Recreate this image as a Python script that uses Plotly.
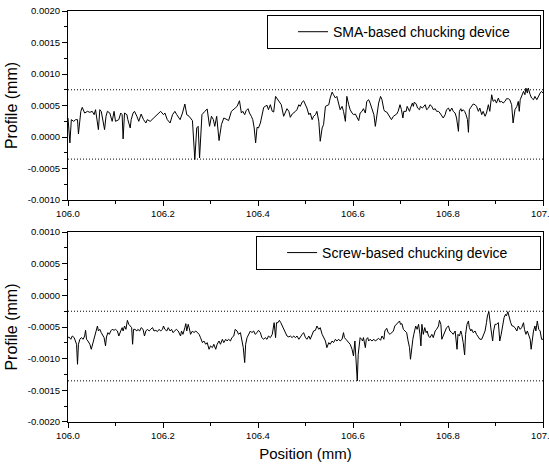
import plotly.graph_objects as go

# Surface profile traces over a 1 mm scan (mm)
sma_position = [
    106.000, 106.004, 106.007, 106.012, 106.016, 106.020, 106.022, 106.027, 106.030, 106.035,
    106.041, 106.046, 106.051, 106.055, 106.058, 106.064, 106.067, 106.070, 106.077, 106.080,
    106.083, 106.088, 106.093, 106.097, 106.100, 106.107, 106.111, 106.114, 106.116, 106.119,
    106.124, 106.126, 106.131, 106.133, 106.137, 106.140, 106.145, 106.149, 106.154, 106.159,
    106.164, 106.167, 106.173, 106.180, 106.188, 106.195, 106.201, 106.204, 106.209, 106.215,
    106.220, 106.225, 106.229, 106.236, 106.241, 106.246, 106.250, 106.255, 106.262, 106.267,
    106.271, 106.274, 106.277, 106.282, 106.288, 106.293, 106.298, 106.302, 106.306, 106.309,
    106.313, 106.318, 106.323, 106.328,
    106.335, 106.338, 106.344, 106.349, 106.352, 106.356, 106.361, 106.365, 106.368, 106.372,
    106.375, 106.379, 106.382, 106.386, 106.389, 106.392, 106.395, 106.398, 106.401, 106.405,
    106.408, 106.412, 106.415, 106.419, 106.422, 106.426, 106.430, 106.433, 106.437, 106.440,
    106.444, 106.449, 106.454, 106.458, 106.461, 106.465, 106.468, 106.472, 106.475, 106.479,
    106.482, 106.486, 106.489, 106.493, 106.496, 106.500, 106.503, 106.507, 106.510, 106.514,
    106.517, 106.521, 106.524, 106.528, 106.531, 106.535, 106.538, 106.542, 106.545, 106.549,
    106.552, 106.556, 106.559, 106.563, 106.566, 106.570, 106.573, 106.577, 106.580, 106.584,
    106.587, 106.591, 106.594, 106.598, 106.601, 106.605, 106.608, 106.612, 106.615, 106.619,
    106.622, 106.626, 106.629, 106.633, 106.636, 106.640, 106.644, 106.647, 106.651, 106.654,
    106.658, 106.661, 106.665,
    106.667, 106.671, 106.674, 106.678, 106.681, 106.685, 106.688, 106.692, 106.695, 106.699,
    106.702, 106.705, 106.707, 106.712, 106.714, 106.719, 106.721, 106.725, 106.727, 106.729,
    106.733, 106.736, 106.740, 106.742, 106.746, 106.749, 106.752, 106.755, 106.759, 106.762,
    106.766, 106.769, 106.773, 106.776, 106.780, 106.783, 106.787, 106.790, 106.794, 106.797,
    106.801, 106.804, 106.808, 106.811, 106.815, 106.818, 106.822, 106.824, 106.827, 106.829,
    106.832, 106.835, 106.838, 106.841, 106.843, 106.845, 106.848, 106.850, 106.853, 106.857,
    106.860, 106.864, 106.867, 106.871, 106.874, 106.878, 106.881, 106.885, 106.888, 106.892,
    106.895, 106.899, 106.902, 106.906, 106.909, 106.913, 106.916, 106.920, 106.923, 106.927,
    106.930, 106.934, 106.937, 106.941, 106.945, 106.948, 106.950, 106.952, 106.955, 106.959,
    106.962, 106.964, 106.967, 106.969, 106.973, 106.976, 106.980, 106.983, 106.987, 106.990,
    106.994, 106.997, 107.000,
]
sma_profile = [
    3.02e-4, -0.93e-4, 2.76e-4, 2.49e-4, 2.76e-4, 2.76e-4, 0.49e-4, 4.08e-4, 4.71e-4, 3.81e-4,
    4.08e-4, 3.92e-4, 4.08e-4, 3.55e-4, 4.34e-4, 1.18e-4, 4.34e-4, 4.08e-4, 1.18e-4, 3.29e-4,
    4.08e-4, 3.81e-4, 2.49e-4, 4.08e-4, 2.49e-4, 2.76e-4, 3.81e-4, 3.55e-4, -0.30e-4, 3.81e-4,
    3.55e-4, 2.76e-4, 1.44e-4, 2.76e-4, 3.81e-4, 4.08e-4, 3.29e-4, 2.49e-4, 3.65e-4, 2.76e-4,
    2.23e-4, 2.76e-4, 2.49e-4, 3.02e-4, 3.55e-4, 4.08e-4, 3.55e-4, 3.81e-4, 2.76e-4, 2.23e-4,
    3.55e-4, 4.08e-4, 3.55e-4, 2.76e-4, 3.81e-4, 5.24e-4, 3.55e-4, 3.29e-4, 2.60e-4, -3.57e-4,
    1.44e-4, 1.70e-4, -3.31e-4, 3.55e-4, 4.08e-4, 4.45e-4, 1.70e-4, 3.29e-4, 2.76e-4, 1.70e-4,
    3.29e-4, -0.56e-4, 1.97e-4, 3.02e-4,
    2.76e-4, 2.60e-4, 4.08e-4, 4.34e-4, 4.60e-4, 4.87e-4, 5.76e-4, 3.81e-4, 4.08e-4, 3.55e-4,
    4.18e-4, 4.50e-4, 3.81e-4, 3.29e-4, 2.76e-4, 1.44e-4, -0.93e-4, 1.55e-4, 1.44e-4, 2.23e-4,
    3.55e-4, 4.71e-4, 4.87e-4, 5.03e-4, 4.34e-4, 5.13e-4, 4.08e-4, 3.97e-4, 6.45e-4, 6.08e-4,
    5.66e-4, 5.13e-4, 3.29e-4, 4.08e-4, 4.50e-4, 4.08e-4, 3.13e-4, 3.65e-4, 3.81e-4, 4.08e-4,
    4.34e-4, 5.13e-4, 4.87e-4, 5.55e-4, 5.76e-4, 5.03e-4, 4.60e-4, 3.55e-4, 3.81e-4, 2.76e-4,
    3.29e-4, 3.55e-4, 4.08e-4, 2.49e-4, -0.67e-4, 1.44e-4, 1.97e-4, 4.87e-4, 5.03e-4, 5.13e-4,
    6.19e-4, 7.13e-4, 6.71e-4, 6.19e-4, 6.45e-4, 5.39e-4, 4.34e-4, 4.87e-4, 4.08e-4, 2.49e-4,
    6.45e-4, 5.13e-4, 4.34e-4, 3.81e-4, 3.55e-4, 3.65e-4, 3.29e-4, 2.60e-4, 3.81e-4, 4.08e-4,
    4.50e-4, 3.81e-4, 5.66e-4, 5.92e-4, 5.39e-4, 4.60e-4, 3.55e-4, 1.70e-4, 4.34e-4, 5.39e-4,
    6.45e-4, 5.92e-4, 4.34e-4,
    4.08e-4, 3.97e-4, 3.55e-4, 3.13e-4, 2.76e-4, 3.29e-4, 3.44e-4, 3.65e-4, 4.08e-4, 5.13e-4,
    4.34e-4, 3.02e-4, 4.08e-4, 4.08e-4, 4.87e-4, 4.08e-4, 4.60e-4, 5.39e-4, 4.87e-4, 5.55e-4,
    5.24e-4, 4.60e-4, 4.34e-4, 4.87e-4, 4.60e-4, 4.87e-4, 5.13e-4, 4.34e-4, 4.60e-4, 5.13e-4,
    4.87e-4, 4.34e-4, 4.50e-4, 4.08e-4, 4.08e-4, 3.81e-4, 3.44e-4, 3.02e-4, 3.55e-4, 4.34e-4,
    4.60e-4, 4.08e-4, 4.60e-4, 4.08e-4, 3.81e-4, 3.02e-4, 0.91e-4, 4.08e-4, 4.50e-4, 4.08e-4,
    4.34e-4, 4.08e-4, 3.55e-4, 2.76e-4, 0.75e-4, 4.34e-4, 4.71e-4, 5.03e-4, 5.24e-4, 5.13e-4,
    4.87e-4, 4.08e-4, 4.60e-4, 3.55e-4, 4.08e-4, 3.29e-4, 3.81e-4, 5.13e-4, 4.08e-4, 6.71e-4,
    5.66e-4, 5.92e-4, 5.39e-4, 6.19e-4, 5.55e-4, 5.66e-4, 5.39e-4, 5.66e-4, 6.08e-4, 6.08e-4,
    5.92e-4, 5.13e-4, 2.23e-4, 4.34e-4, 4.87e-4, 5.66e-4, 4.08e-4, 5.92e-4, 6.45e-4, 7.24e-4,
    6.71e-4, 7.77e-4, 6.98e-4, 7.77e-4, 6.71e-4, 6.19e-4, 5.92e-4, 6.45e-4, 5.92e-4, 6.45e-4,
    6.98e-4, 7.24e-4, 6.98e-4,
]

screw_position = [
    106.000, 106.002, 106.006, 106.009, 106.013, 106.016, 106.018, 106.020, 106.022, 106.025,
    106.028, 106.032, 106.035, 106.037, 106.039, 106.042, 106.046, 106.049, 106.051, 106.055,
    106.058, 106.062, 106.064, 106.067, 106.070, 106.072, 106.076, 106.079, 106.081, 106.084,
    106.087, 106.090, 106.093, 106.097, 106.100, 106.104, 106.107, 106.111, 106.114, 106.116,
    106.119, 106.122, 106.125, 106.128, 106.132, 106.134, 106.136, 106.138, 106.141, 106.145,
    106.147, 106.151, 106.154, 106.158, 106.161, 106.164, 106.167, 106.171, 106.174, 106.178,
    106.181, 106.185, 106.188, 106.192, 106.195, 106.199, 106.201, 106.204, 106.208, 106.211,
    106.215, 106.218, 106.221, 106.225, 106.228, 106.232, 106.235, 106.237, 106.239, 106.242,
    106.246, 106.248, 106.250, 106.253, 106.255, 106.258, 106.262, 106.265, 106.269, 106.272,
    106.276, 106.279, 106.283, 106.286, 106.290, 106.293, 106.297, 106.300, 106.304, 106.307,
    106.311, 106.314, 106.318, 106.321, 106.325, 106.328, 106.332,
    106.335, 106.338, 106.342, 106.345, 106.349, 106.352, 106.356, 106.359, 106.363, 106.366,
    106.369, 106.372, 106.374, 106.377, 106.380, 106.384, 106.387, 106.391, 106.394, 106.398,
    106.401, 106.405, 106.408, 106.412, 106.415, 106.419, 106.422, 106.426, 106.430, 106.432,
    106.434, 106.437, 106.439, 106.442, 106.445, 106.448, 106.451, 106.454, 106.458, 106.461,
    106.465, 106.468, 106.472, 106.475, 106.479, 106.482, 106.486, 106.489, 106.493, 106.496,
    106.500, 106.503, 106.507, 106.510, 106.514, 106.517, 106.521, 106.524, 106.528, 106.531,
    106.535, 106.538, 106.542, 106.545, 106.549, 106.552, 106.556, 106.559, 106.563, 106.566,
    106.570, 106.573, 106.577, 106.580, 106.582, 106.585, 106.588, 106.591, 106.594, 106.598,
    106.601, 106.604, 106.607, 106.609, 106.611, 106.613, 106.615, 106.618, 106.620, 106.622,
    106.626, 106.628, 106.631, 106.633, 106.636, 106.640, 106.644, 106.647, 106.651, 106.654,
    106.658, 106.661, 106.665,
    106.667, 106.671, 106.674, 106.678, 106.681, 106.685, 106.688, 106.692, 106.695, 106.698,
    106.700, 106.703, 106.706, 106.709, 106.713, 106.716, 106.719, 106.721, 106.723, 106.726,
    106.728, 106.730, 106.732, 106.735, 106.738, 106.741, 106.743, 106.745, 106.748, 106.751,
    106.754, 106.756, 106.759, 106.762, 106.766, 106.769, 106.773, 106.776, 106.780, 106.782,
    106.785, 106.787, 106.790, 106.794, 106.797, 106.801, 106.804, 106.808, 106.811, 106.815,
    106.817, 106.819, 106.821, 106.824, 106.827, 106.829, 106.832, 106.835, 106.837, 106.840,
    106.843, 106.845, 106.848, 106.850, 106.853, 106.857, 106.860, 106.864, 106.867, 106.871,
    106.874, 106.878, 106.881, 106.883, 106.886, 106.888, 106.891, 106.894, 106.896, 106.899,
    106.902, 106.906, 106.909, 106.912, 106.915, 106.918, 106.921, 106.923, 106.926, 106.929,
    106.932, 106.935, 106.937, 106.941, 106.945, 106.948, 106.952, 106.955, 106.959, 106.961,
    106.964, 106.967, 106.970, 106.973, 106.975, 106.978, 106.980, 106.983, 106.985, 106.988,
    106.991, 106.994, 106.997, 107.000,
]
screw_profile = [
    -6.67e-4, -6.57e-4, -6.93e-4, -6.41e-4, -6.67e-4, -7.20e-4, -7.72e-4, -10.88e-4, -7.72e-4, -6.93e-4,
    -6.67e-4, -6.93e-4, -6.41e-4, -5.51e-4, -6.93e-4, -7.20e-4, -7.72e-4, -8.51e-4, -7.98e-4, -6.93e-4,
    -5.88e-4, -4.83e-4, -5.62e-4, -5.36e-4, -5.88e-4, -6.15e-4, -6.67e-4, -7.98e-4, -6.57e-4, -5.88e-4,
    -6.15e-4, -5.62e-4, -5.36e-4, -5.51e-4, -5.36e-4, -5.62e-4, -6.41e-4, -5.62e-4, -5.09e-4, -5.62e-4,
    -4.83e-4, -5.36e-4, -3.94e-4, -4.57e-4, -4.83e-4, -5.09e-4, -7.72e-4, -5.36e-4, -5.36e-4, -5.62e-4,
    -5.36e-4, -5.62e-4, -5.09e-4, -5.36e-4, -6.41e-4, -5.62e-4, -5.36e-4, -5.62e-4, -5.36e-4, -5.09e-4,
    -5.62e-4, -5.51e-4, -5.72e-4, -5.36e-4, -5.62e-4, -5.36e-4, -4.83e-4, -5.36e-4, -5.62e-4, -5.09e-4,
    -5.62e-4, -5.36e-4, -5.88e-4, -5.62e-4, -5.36e-4, -5.62e-4, -6.15e-4, -6.41e-4, -5.62e-4, -6.15e-4,
    -5.09e-4, -4.46e-4, -5.62e-4, -4.57e-4, -5.09e-4, -6.15e-4, -5.62e-4, -5.88e-4, -5.62e-4, -5.88e-4,
    -6.15e-4, -6.67e-4, -7.46e-4, -7.20e-4, -7.72e-4, -7.46e-4, -8.51e-4, -7.98e-4, -8.25e-4, -7.72e-4,
    -8.51e-4, -7.72e-4, -7.20e-4, -7.72e-4, -6.93e-4, -7.46e-4, -6.93e-4,
    -7.20e-4, -6.93e-4, -7.20e-4, -6.67e-4, -6.41e-4, -5.36e-4, -5.62e-4, -6.15e-4, -5.88e-4, -6.93e-4,
    -8.25e-4, -10.61e-4, -7.72e-4, -6.67e-4, -6.15e-4, -5.62e-4, -5.88e-4, -5.62e-4, -6.15e-4, -5.88e-4,
    -5.51e-4, -5.88e-4, -6.67e-4, -6.93e-4, -6.67e-4, -6.93e-4, -6.41e-4, -6.67e-4, -6.15e-4, -4.83e-4,
    -4.31e-4, -6.67e-4, -4.31e-4, -4.31e-4, -3.94e-4, -4.31e-4, -4.83e-4, -5.36e-4, -5.88e-4, -6.41e-4,
    -6.57e-4, -6.41e-4, -6.67e-4, -6.41e-4, -6.67e-4, -6.41e-4, -6.93e-4, -6.67e-4, -6.15e-4, -5.88e-4,
    -6.67e-4, -6.93e-4, -6.41e-4, -6.93e-4, -6.15e-4, -5.62e-4, -5.51e-4, -4.83e-4, -5.36e-4, -5.09e-4,
    -6.15e-4, -6.67e-4, -7.20e-4, -8.25e-4, -7.46e-4, -7.72e-4, -7.20e-4, -7.46e-4, -6.93e-4, -7.20e-4,
    -6.93e-4, -7.20e-4, -6.93e-4, -5.88e-4, -6.67e-4, -6.93e-4, -7.20e-4, -7.46e-4, -7.72e-4, -8.51e-4,
    -9.56e-4, -7.20e-4, -10.09e-4, -13.50e-4, -9.30e-4, -7.46e-4, -6.67e-4, -6.93e-4, -7.20e-4, -6.67e-4,
    -8.25e-4, -6.93e-4, -6.67e-4, -7.20e-4, -6.93e-4, -7.20e-4, -6.93e-4, -7.20e-4, -6.93e-4, -6.78e-4,
    -7.09e-4, -6.41e-4, -6.93e-4,
    -5.62e-4, -5.20e-4, -5.88e-4, -6.15e-4, -5.88e-4, -5.62e-4, -4.83e-4, -4.57e-4, -4.31e-4, -4.04e-4,
    -4.57e-4, -4.46e-4, -5.36e-4, -5.62e-4, -5.88e-4, -7.20e-4, -8.25e-4, -10.09e-4, -8.51e-4, -6.93e-4,
    -6.15e-4, -5.62e-4, -4.83e-4, -5.36e-4, -4.57e-4, -6.15e-4, -7.98e-4, -4.57e-4, -6.15e-4, -5.09e-4,
    -5.88e-4, -5.62e-4, -6.41e-4, -6.67e-4, -6.15e-4, -6.67e-4, -5.62e-4, -5.36e-4, -4.83e-4, -3.94e-4,
    -4.57e-4, -6.93e-4, -6.41e-4, -5.62e-4, -5.09e-4, -4.83e-4, -5.62e-4, -5.88e-4, -6.15e-4, -5.62e-4,
    -6.67e-4, -8.51e-4, -6.15e-4, -6.41e-4, -5.62e-4, -6.15e-4, -7.46e-4, -9.40e-4, -6.15e-4, -4.57e-4,
    -4.04e-4, -5.09e-4, -5.62e-4, -5.36e-4, -5.88e-4, -5.62e-4, -6.15e-4, -6.67e-4, -6.93e-4, -6.93e-4,
    -6.41e-4, -5.62e-4, -4.31e-4, -3.25e-4, -2.57e-4, -3.52e-4, -5.62e-4, -7.20e-4, -5.62e-4, -4.57e-4,
    -4.57e-4, -4.31e-4, -7.20e-4, -6.15e-4, -4.57e-4, -3.52e-4, -2.99e-4, -3.25e-4, -2.57e-4, -3.52e-4,
    -4.31e-4, -4.83e-4, -4.83e-4, -5.09e-4, -5.62e-4, -4.83e-4, -5.36e-4, -5.09e-4, -4.31e-4, -5.36e-4,
    -6.15e-4, -5.62e-4, -6.41e-4, -6.93e-4, -8.51e-4, -6.15e-4, -5.62e-4, -4.83e-4, -5.62e-4, -4.04e-4,
    -5.36e-4, -5.62e-4, -6.93e-4, -6.93e-4,
]

# Horizontal reference levels (peak / valley bounds) for each trace
sma_bounds = [0.00075, -0.00035]
screw_bounds = [-0.00025, -0.00135]

x_range = [106.0, 107.0]
x_ticks = [106.0, 106.2, 106.4, 106.6, 106.8, 107.0]
x_labels = ["106.0", "106.2", "106.4", "106.6", "106.8", "107.0"]
sma_y_range = [-0.0010, 0.0020]
screw_y_range = [-0.0020, 0.0010]
sma_y_ticks = [-0.0010, -0.0005, 0.0, 0.0005, 0.0010, 0.0015, 0.0020]
sma_y_labels = ["-0.0010", "-0.0005", "0.0000", "0.0005", "0.0010", "0.0015", "0.0020"]
screw_y_ticks = [-0.0020, -0.0015, -0.0010, -0.0005, 0.0, 0.0005, 0.0010]
screw_y_labels = ["-0.0020", "-0.0015", "-0.0010", "-0.0005", "0.0000", "0.0005", "0.0010"]

FONT = "Liberation Sans, Arial, Helvetica, sans-serif"
BLACK = "#000000"

fig = go.Figure()
fig.add_trace(go.Scatter(
    x=sma_position, y=sma_profile, mode="lines", name="SMA-based chucking device",
    line=dict(color=BLACK, width=1), xaxis="x", yaxis="y", legend="legend",
))
fig.add_trace(go.Scatter(
    x=screw_position, y=screw_profile, mode="lines", name="Screw-based chucking device",
    line=dict(color=BLACK, width=1), xaxis="x2", yaxis="y2", legend="legend2",
))

for xref, yref, bounds in (("x", "y", sma_bounds), ("x2", "y2", screw_bounds)):
    for level in bounds:
        fig.add_shape(type="line", xref=xref + " domain", yref=yref,
                      x0=0, x1=1, y0=level, y1=level,
                      line=dict(color=BLACK, width=1, dash="1px,2px"))

x_common = dict(
    range=x_range, tickmode="array", tickvals=x_ticks, ticktext=x_labels,
    ticklabeloverflow="allow", automargin=False,
    ticks="outside", ticklen=5, tickwidth=1, tickcolor=BLACK,
    minor=dict(tick0=106.0, dtick=0.1, ticks="outside", ticklen=3, tickcolor=BLACK, tickwidth=1),
    showline=True, linecolor=BLACK, linewidth=1, mirror=True,
    showgrid=False, zeroline=False,
    tickfont=dict(family=FONT, size=9.5, color=BLACK),
)
y_common = dict(
    ticks="outside", ticklen=5, tickwidth=1, tickcolor=BLACK, automargin=False,
    showline=True, linecolor=BLACK, linewidth=1, mirror=True,
    showgrid=False, zeroline=False,
    tickfont=dict(family=FONT, size=9.5, color=BLACK),
    title=dict(text="Profile (mm)", font=dict(family=FONT, size=16, color=BLACK), standoff=6),
)
legend_common = dict(
    xanchor="left", yanchor="top", orientation="h",
    bordercolor=BLACK, borderwidth=1, bgcolor="white",
    indentation=25, entrywidthmode="pixels",
    font=dict(family=FONT, size=14, color=BLACK),
)

fig.update_layout(
    width=549, height=470, autosize=False,
    margin=dict(l=68, r=6, t=11, b=48),
    paper_bgcolor="white", plot_bgcolor="white",
    font=dict(family=FONT, color=BLACK),
    xaxis=dict(anchor="y", domain=[0, 1], **x_common),
    yaxis=dict(anchor="x", domain=[0.540, 1.0], range=sma_y_range,
               tickmode="array", tickvals=sma_y_ticks, ticktext=sma_y_labels,
               minor=dict(tick0=0, dtick=0.00025, ticks="outside", ticklen=3, tickcolor=BLACK, tickwidth=1),
               **y_common),
    xaxis2=dict(anchor="y2", domain=[0, 1],
                title=dict(text="Position (mm)", font=dict(family=FONT, size=15, color=BLACK), standoff=8),
                **x_common),
    yaxis2=dict(anchor="x2", domain=[0.0, 0.462], range=screw_y_range,
                tickmode="array", tickvals=screw_y_ticks, ticktext=screw_y_labels,
                minor=dict(tick0=0, dtick=0.00025, ticks="outside", ticklen=3, tickcolor=BLACK, tickwidth=1),
                **y_common),
    legend=dict(x=0.419, y=0.990, entrywidth=202, **legend_common),
    legend2=dict(x=0.396, y=0.4526, entrywidth=213, **legend_common),
    showlegend=True,
)

fig.write_html("out.html")
